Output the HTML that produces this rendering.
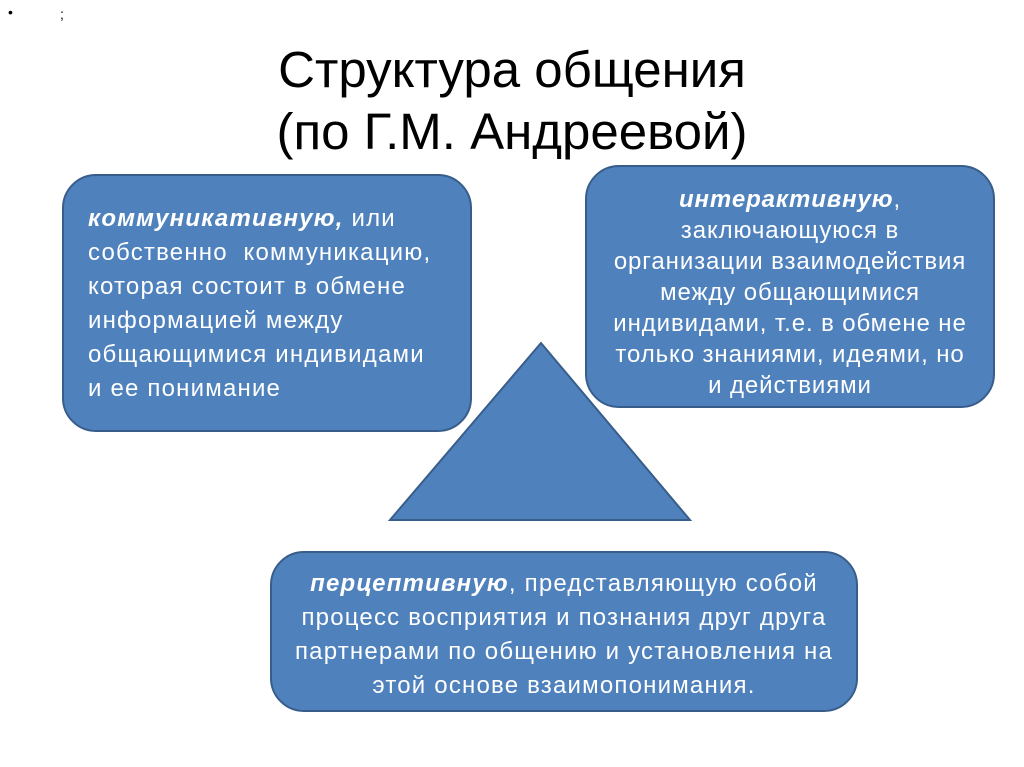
<!DOCTYPE html>
<html><head><meta charset="utf-8"><style>
body{margin:0;width:1024px;height:767px;background:#fff;position:relative;overflow:hidden;font-family:"Liberation Sans","DejaVu Sans",sans-serif;}
.t{position:absolute;left:0;width:1024px;text-align:center;font-size:51px;color:#000;line-height:62px;top:39px;}
.b{position:absolute;background:#4f81bd;border:2px solid #385d8a;border-radius:34px;color:#fff;box-sizing:border-box;font-size:24px;letter-spacing:1.2px;white-space:nowrap;}
</style></head><body>
<div style="position:absolute;left:8px;top:4px;font-size:14px">•</div>
<div style="position:absolute;left:60px;top:6px;font-size:14px">;</div>
<div class="t">Структура общения<br>(по Г.М. Андреевой)</div>
<div class="b" style="left:62px;top:174px;width:410px;height:258px;padding:26px 0 0 24px;line-height:34px;"><b><i>коммуникативную,</i></b> или<br>собственно&nbsp; коммуникацию,<br>которая состоит в обмене<br>информацией между<br>общающимися индивидами<br>и ее понимание</div>
<div class="b" style="left:585px;top:165px;width:410px;height:243px;padding:17px 0 0 0;text-align:center;line-height:31px;letter-spacing:0.9px;"><b><i>интерактивную</i></b>,<br>заключающуюся в<br>организации взаимодействия<br>между общающимися<br>индивидами, т.е. в обмене не<br>только знаниями, идеями, но<br>и действиями</div>
<svg style="position:absolute;left:0;top:0" width="1024" height="767"><polygon points="541,343 390,520 690,520" fill="#4f81bd" stroke="#385d8a" stroke-width="2"/></svg>
<div class="b" style="left:270px;top:551px;width:588px;height:161px;padding:14px 0 0 0;text-align:center;line-height:34px;"><b><i>перцептивную</i></b>, представляющую собой<br>процесс восприятия и познания друг друга<br>партнерами по общению и установления на<br>этой основе взаимопонимания.</div>
</body></html>
